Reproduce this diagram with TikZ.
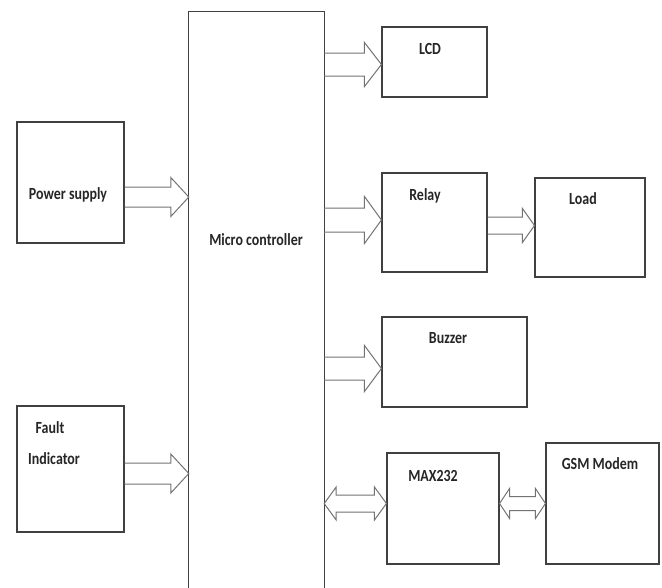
\documentclass[tikz,border=0pt]{standalone}
\usepackage{fontspec}
\setmainfont{Carlito}[FakeStretch=0.82]
\usetikzlibrary{calc}
\tikzset{
  boxline/.style={draw=black!75, line width=1.1pt},
  box/.style={boxline, rectangle, inner sep=0pt},
  lbl/.style={font=\fontsize{17}{19}\selectfont\bfseries, text=black!85, inner sep=0pt, anchor=center},
  arr/.style={draw=black!55, line width=1pt, line join=miter}
}
% single block arrow: from, to, y centre (px), shaft half, head half, head length
\newcommand\blockarrow[6]{%
  \draw[arr] let \p1=(#1.east), \p2=(#2.west) in
    (\x1,-#3pt+#4pt) -- (\x2-#6pt,-#3pt+#4pt) -- (\x2-#6pt,-#3pt+#5pt) -- (\x2,-#3pt)
    -- (\x2-#6pt,-#3pt-#5pt) -- (\x2-#6pt,-#3pt-#4pt) -- (\x1,-#3pt-#4pt);}
% double block arrow
\newcommand\dblarrow[6]{%
  \draw[arr] let \p1=(#1.east), \p2=(#2.west) in
    (\x1,-#3pt) -- (\x1+#6pt,-#3pt+#5pt) -- (\x1+#6pt,-#3pt+#4pt) -- (\x2-#6pt,-#3pt+#4pt)
    -- (\x2-#6pt,-#3pt+#5pt) -- (\x2,-#3pt) -- (\x2-#6pt,-#3pt-#5pt) -- (\x2-#6pt,-#3pt-#4pt)
    -- (\x1+#6pt,-#3pt-#4pt) -- (\x1+#6pt,-#3pt-#5pt) -- cycle;}
\begin{document}
\begin{tikzpicture}[x=1pt,y=-1pt]
\useasboundingbox (0,0) rectangle (662,587);
\clip (0,0) rectangle (662,587);
\fill[white] (0,0) rectangle (662,587);

% boxes (left,top,right,bottom)
\node[box, minimum width=107pt, minimum height=121pt] (ps) at (70.5,182.5) {};
\node[box, minimum width=107pt, minimum height=126pt] (fi) at (70.5,469) {};
\node[rectangle, inner sep=0pt, minimum width=135pt, minimum height=600pt] (mc) at (256.5,312) {};
\draw[boxline] (mc.south west) -- (mc.north west) -- (mc.north east) -- (mc.south east);
\node[box, minimum width=105pt, minimum height=70pt] (lcd) at (434.5,62) {};
\node[box, minimum width=105pt, minimum height=99pt] (relay) at (434.5,222.5) {};
\node[box, minimum width=110pt, minimum height=99pt] (load) at (590,227.5) {};
\node[box, minimum width=145pt, minimum height=90pt] (buzzer) at (454.5,362) {};
\node[box, minimum width=112pt, minimum height=111pt] (max) at (443,508.5) {};
\node[box, minimum width=113pt, minimum height=121pt] (gsm) at (602.5,503.5) {};

% labels
\node[lbl] (tps) at (68,195) {Power supply};
\node[lbl] (tmc) at (256,240) {Micro controller};
\node[lbl] (tfi1) at (50,428) {Fault};
\node[lbl] (tfi2) at (54,459) {Indicator};
\node[lbl] (tlcd) at (430,49) {LCD};
\node[lbl] (trel) at (425,196) {Relay};
\node[lbl] (tload) at (583,199) {Load};
\node[lbl] (tbuz) at (448,338) {Buzzer};
\node[lbl] (tmax) at (433,476) {MAX232};
\node[lbl] (tgsm) at (600,464) {GSM Modem};

% arrows
\blockarrow{ps}{mc}{197}{10}{19.5}{18}
\blockarrow{fi}{mc}{473.5}{10.5}{19.5}{18}
\blockarrow{mc}{lcd}{64.5}{11.5}{22}{17}
\blockarrow{mc}{relay}{220}{12}{23.5}{17}
\blockarrow{relay}{load}{225.5}{8.5}{17}{12}
\blockarrow{mc}{buzzer}{368.5}{11.5}{23}{17}
\dblarrow{mc}{max}{503.5}{8.5}{16.5}{12}
\dblarrow{max}{gsm}{503.5}{7}{15}{10}
\end{tikzpicture}
\end{document}
